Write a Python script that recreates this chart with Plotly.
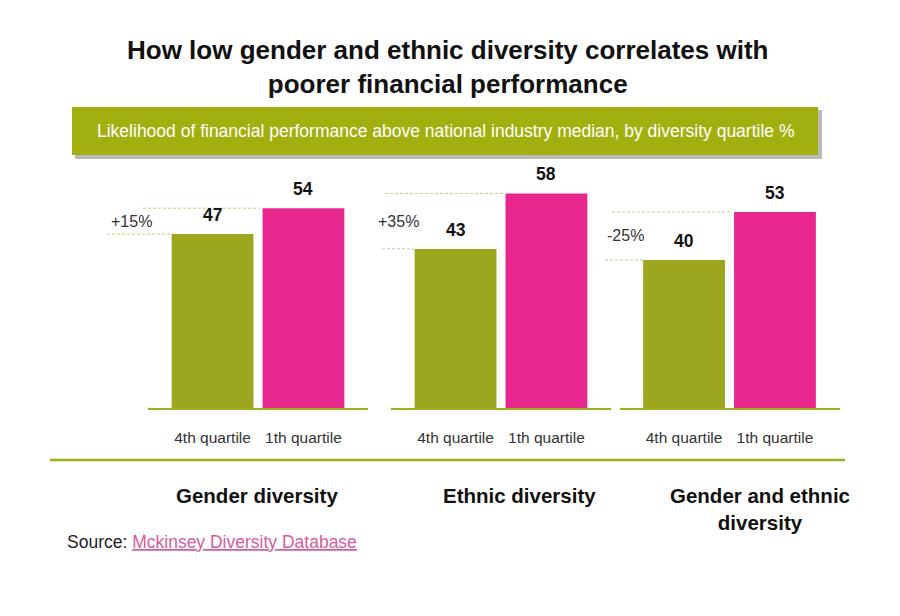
import plotly.graph_objects as go

# ---- data ----
groups = ["Gender diversity", "Ethnic diversity", "Gender and ethnic<br>diversity"]
quartiles = ["4th quartile", "1th quartile"]
fourth_quartile = [47, 43, 40]
first_quartile = [54, 58, 53]
uplift_labels = ["+15%", "+35%", "-25%"]

title_text = "How low gender and ethnic diversity correlates with<br>poorer financial performance"
subtitle_text = "Likelihood of financial performance above national industry median, by diversity quartile %"

# ---- style ----
GREEN = "#9ca61e"
PINK = "#e8288f"
BOX = "#a2b00f"
LINE = "#9fb01a"
DASH = "#c8d27a"
FONT = "Liberation Sans, Arial, sans-serif"
OFF = 8                      # page body margin
W, H = 900 - OFF, 616 - OFF


def px(x):
    return (x - OFF) / W


def py(y):
    return 1 - (y - OFF) / H


panel_centers = [258, 501, 729.5]
half = 110
ydom = [py(408), py(170)]
yrange = [0, (408 - 170) / 3.7]
label_x = [131, 398, 625]
low_ext = [(107, 173), (382, 414), (605, 643)]
high_ext = [(143, 260), (385, 503), (612, 730)]
group_x = [257, 519, 760]

fig = go.Figure()
shapes = []
annotations = []

for i in range(3):
    sfx = "" if i == 0 else str(i + 1)
    xa, ya = "x" + sfx, "y" + sfx
    fig.add_trace(go.Bar(
        x=quartiles, y=[fourth_quartile[i], first_quartile[i]],
        marker=dict(color=[GREEN, PINK], line=dict(width=0)),
        width=0.9, xaxis=xa, yaxis=ya, showlegend=False, hoverinfo="x+y",
    ))
    c = panel_centers[i]
    fig.update_layout(**{
        "xaxis" + sfx: dict(
            domain=[px(c - half), px(c + half)], range=[-0.71, 1.71],
            anchor=ya, showline=True, linecolor=LINE, linewidth=2,
            ticks="outside", ticklen=14, tickcolor="rgba(0,0,0,0)",
            tickfont=dict(family=FONT, size=15.5, color="#333333"),
            showgrid=False, zeroline=False, fixedrange=True,
        ),
        "yaxis" + sfx: dict(
            domain=ydom, range=yrange, anchor=xa, visible=False,
            showgrid=False, zeroline=False, fixedrange=True,
        ),
    })
    # value labels
    for q, v in zip(quartiles, [fourth_quartile[i], first_quartile[i]]):
        annotations.append(dict(
            x=q, y=v, xref=xa, yref=ya, text="<b>%d</b>" % v, showarrow=False,
            xanchor="center", yanchor="bottom", yshift=7,
            font=dict(family=FONT, size=17.5, color="#111111"),
        ))
    # dashed reference lines
    shapes.append(dict(type="line", xref="paper", yref=ya,
                       x0=px(low_ext[i][0]), x1=px(low_ext[i][1]),
                       y0=fourth_quartile[i], y1=fourth_quartile[i],
                       line=dict(color=DASH, width=1, dash="3px,2px"), layer="below"))
    shapes.append(dict(type="line", xref="paper", yref=ya,
                       x0=px(high_ext[i][0]), x1=px(high_ext[i][1]),
                       y0=first_quartile[i], y1=first_quartile[i],
                       line=dict(color=DASH, width=1, dash="3px,2px"), layer="below"))
    # uplift label
    annotations.append(dict(
        x=px(label_x[i]), y=(fourth_quartile[i] + first_quartile[i]) / 2,
        xref="paper", yref=ya, text=uplift_labels[i], showarrow=False,
        xanchor="center", yanchor="middle",
        font=dict(family=FONT, size=16, color="#333333"),
    ))
    # group label
    annotations.append(dict(
        x=px(group_x[i]), y=py(482), xref="paper", yref="paper",
        text="<b>%s</b>" % groups[i], showarrow=False,
        xanchor="center", yanchor="top",
        font=dict(family=FONT, size=20.5, color="#111111"),
    ))

# subtitle box with shadow
shapes.append(dict(type="rect", xref="paper", yref="paper",
                   x0=px(75), x1=px(822), y0=py(159), y1=py(110),
                   fillcolor="#8a8a8a", line=dict(width=0), opacity=0.6, layer="below"))
shapes.append(dict(type="rect", xref="paper", yref="paper",
                   x0=px(72), x1=px(818), y0=py(155), y1=py(107),
                   fillcolor=BOX, line=dict(width=0), layer="below"))
annotations.append(dict(
    x=px(445), y=py(131), xref="paper", yref="paper", text=subtitle_text,
    showarrow=False, xanchor="center", yanchor="middle",
    font=dict(family=FONT, size=17.5, color="white"),
))
# long separator line
shapes.append(dict(type="line", xref="paper", yref="paper",
                   x0=px(50), x1=px(845), y0=py(460), y1=py(460),
                   line=dict(color=LINE, width=2.5)))
# title
annotations.append(dict(
    x=px(447), y=py(67), xref="paper", yref="paper", text="<b>%s</b>" % title_text,
    showarrow=False, xanchor="center", yanchor="middle",
    font=dict(family=FONT, size=26, color="#111111"),
))
# source
annotations.append(dict(
    x=px(65), y=py(542), xref="paper", yref="paper", xanchor="left", yanchor="middle",
    text='Source: <span style="color:#d65c9c;text-decoration:underline">Mckinsey Diversity Database</span>',
    showarrow=False, font=dict(family=FONT, size=17.5, color="#222222"),
))

fig.update_layout(
    width=W, height=H, margin=dict(l=0, r=0, t=0, b=0),
    paper_bgcolor="white", plot_bgcolor="rgba(0,0,0,0)",
    shapes=shapes, annotations=annotations, bargap=0.1,
    font=dict(family=FONT),
)

fig.write_html("out.html")
